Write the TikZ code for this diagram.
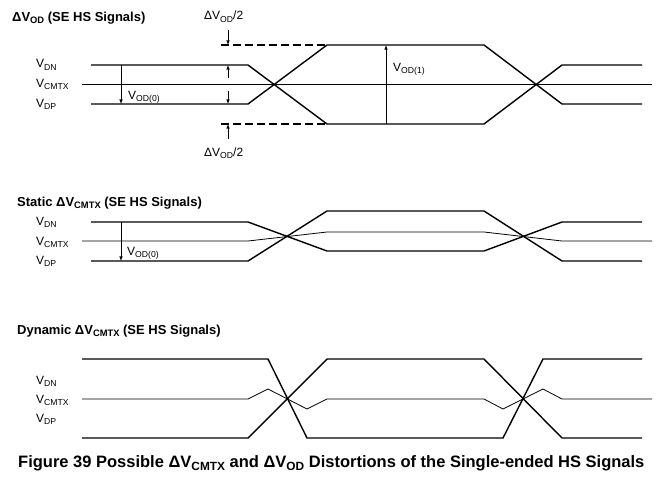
\documentclass[tikz,border=0pt]{standalone}
\usepackage{fontspec}
\setmainfont{Liberation Sans}
\usepackage{tikz}
\usetikzlibrary{calc, shapes, arrows}
\newcommand{\dsub}[1]{\raisebox{-0.22em}{\scalebox{0.72}{#1}}}

\begin{document}
\begin{tikzpicture}[x=1pt,y=-1pt]
\tikzstyle{signal}=[line width=1.4pt]
\tikzstyle{common}=[line width=0.8pt]
\tikzstyle{swing}=[line width=1.4pt,dash pattern=on 8pt off 4pt]
\tikzstyle{meas}=[line width=0.6pt,-latex]
\tikzstyle{vname}=[anchor=base west,inner sep=0pt,font=\fontsize{12}{14}\selectfont]
\tikzstyle{heading}=[anchor=base west,inner sep=0pt,font=\bfseries\fontsize{13}{15}\selectfont]
\useasboundingbox (0,0) rectangle (669,483);
\node[heading] (T_0) at (12,21) {ΔV\dsub{OD} (SE HS Signals)};
\node[vname] (N_0) at (36,67.5) {V\dsub{DN}};
\node[vname] (C_0) at (36,87) {V\dsub{CMTX}};
\node[vname] (P_0) at (36,107) {V\dsub{DP}};
\node[vname] (H_0) at (204,19.5) {ΔV\dsub{OD}/2};
\node[vname] (H_1) at (204,156) {ΔV\dsub{OD}/2};
\node[vname] (D_0) at (128,99) {V\dsub{OD(0)}};
\node[vname] (D_1) at (393,71) {V\dsub{OD(1)}};
\draw[common] (82,84) -- (652,84);
\draw[signal] (91,65) -- (248,65) -- (327,124) -- (484,124) -- (562,65) -- (642,65);
\draw[signal] (91,104) -- (248,104) -- (327,45) -- (484,45) -- (562,104) -- (642,104);
\draw[swing] (221,45) -- (327,45);
\draw[swing] (221,124) -- (327,124);
\draw[meas] (228,30) -- (228,45);
\draw[meas] (228,139) -- (228,124);
\draw[meas] (228,78) -- (228,65);
\draw[meas] (228,91) -- (228,104);
\draw[meas] (121,65) -- (121,104);
\draw[meas] (386,124) -- (386,45);
\node[heading] (T_1) at (17,206) {Static ΔV\dsub{CMTX} (SE HS Signals)};
\node[vname] (N_1) at (36,225) {V\dsub{DN}};
\node[vname] (C_1) at (36,245) {V\dsub{CMTX}};
\node[vname] (P_1) at (36,264) {V\dsub{DP}};
\node[vname] (D_2) at (127,255) {V\dsub{OD(0)}};
\draw[common] (82,241) -- (248,241) -- (327,232) -- (484,232) -- (562,241) -- (652,241);
\draw[signal] (91,222) -- (248,222) -- (327,251) -- (484,251) -- (562,222) -- (642,222);
\draw[signal] (91,261) -- (248,261) -- (327,211) -- (484,211) -- (562,261) -- (642,261);
\draw[meas] (121,222) -- (121,261);
\node[heading] (T_2) at (17,334) {Dynamic ΔV\dsub{CMTX} (SE HS Signals)};
\node[vname] (N_2) at (36,384) {V\dsub{DN}};
\node[vname] (C_2) at (36,403) {V\dsub{CMTX}};
\node[vname] (P_2) at (36,422) {V\dsub{DP}};
\draw[common] (82,399) -- (248,399) -- (268,389) -- (307,409) -- (327,399) -- (484,399) -- (503,409) -- (543,389) -- (562,399) -- (652,399);
\draw[signal] (82,359) -- (268,359) -- (307,438) -- (503,438) -- (543,359) -- (642,359);
\draw[signal] (82,438) -- (248,438) -- (327,359) -- (484,359) -- (562,438) -- (642,438);
\node[heading,font=\bfseries\fontsize{16.5}{19}\selectfont] (F_0) at (18,467) {Figure 39 Possible ΔV\dsub{CMTX} and ΔV\dsub{OD} Distortions of the Single-ended HS Signals};
\end{tikzpicture}
\end{document}
